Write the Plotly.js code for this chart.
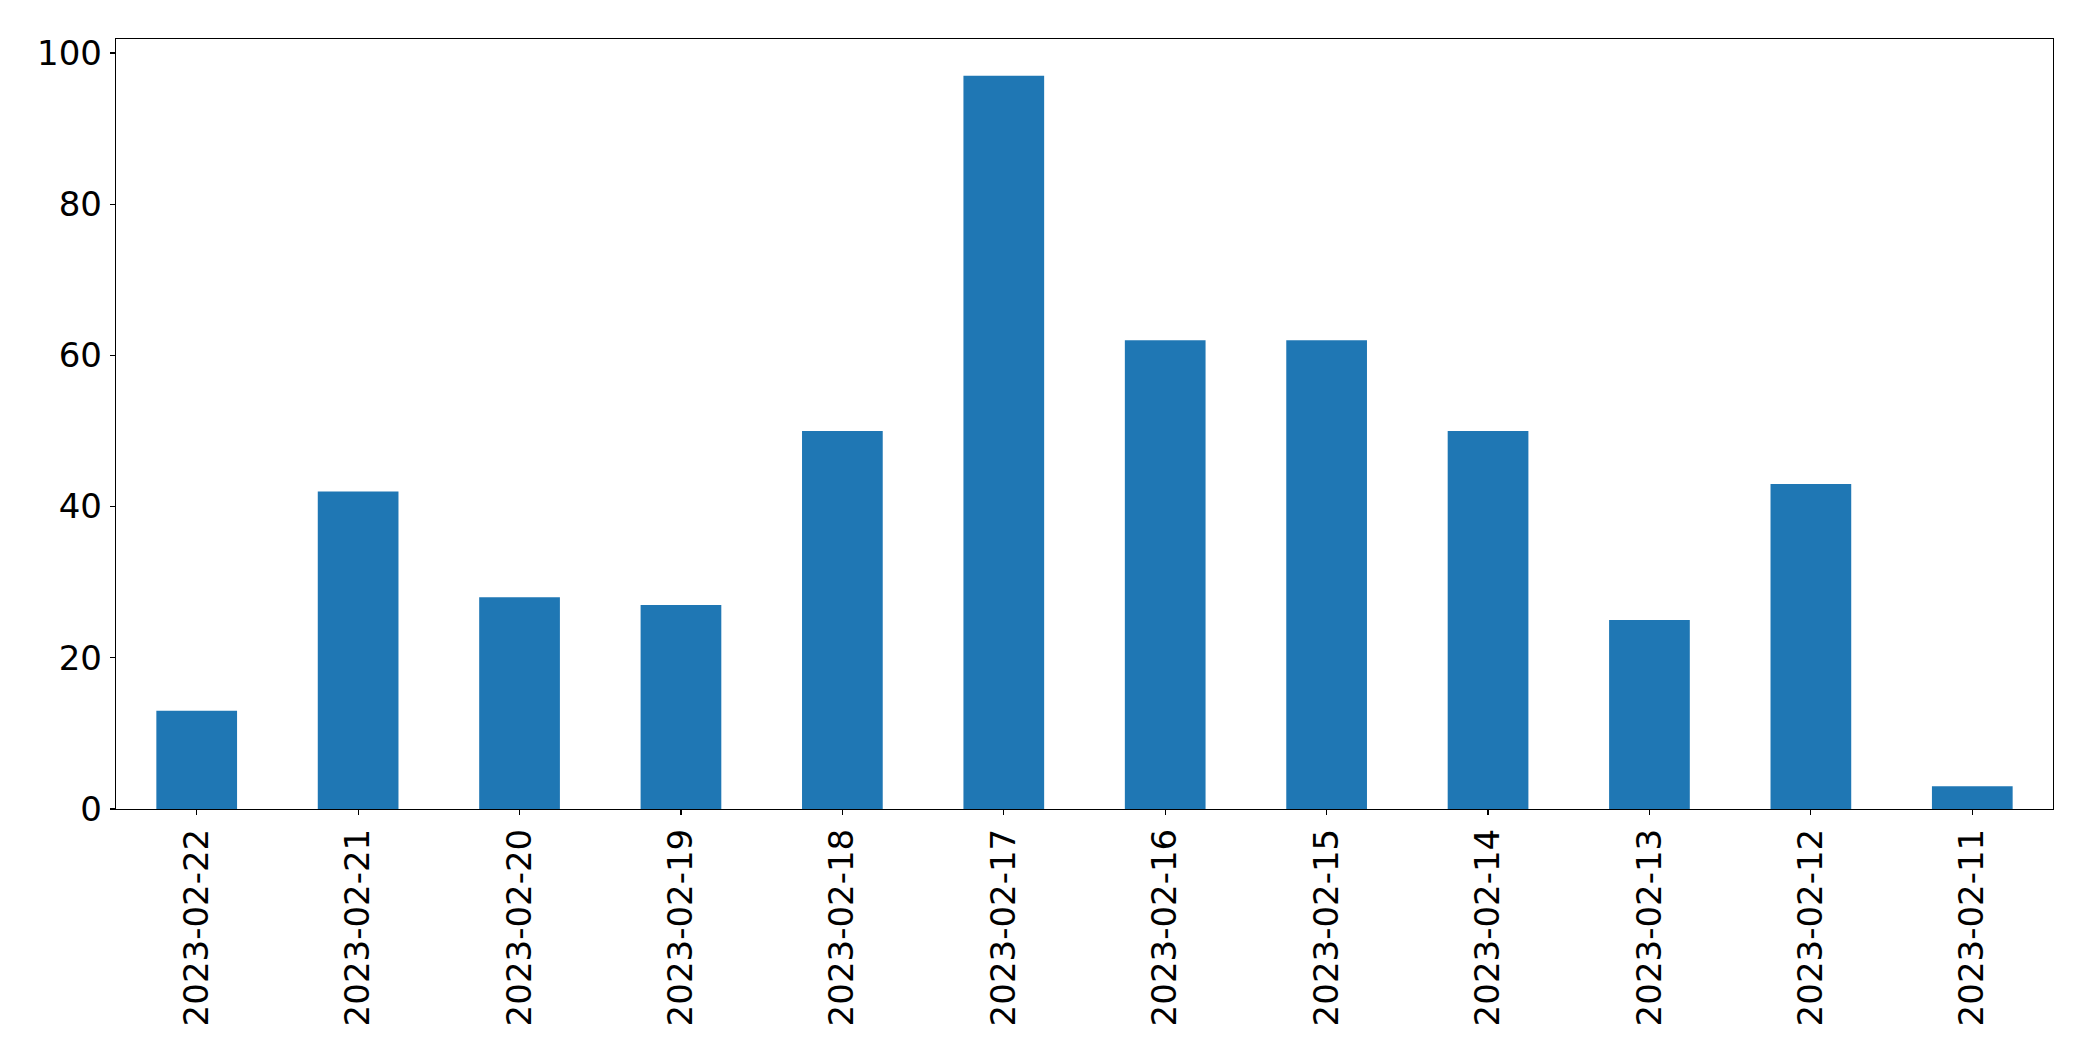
<!DOCTYPE html>
<html>
<head>
<meta charset="utf-8">
<script src="https://cdn.plot.ly/plotly-3.0.1.min.js"></script>
<style>
html, body { margin: 0; padding: 0; background: #fff; }
#chart { width: 2093px; height: 1061px; }
</style>
</head>
<body>
<div id="chart"></div>
<script>
const dates = ["2023-02-22", "2023-02-21", "2023-02-20", "2023-02-19", "2023-02-18", "2023-02-17",
               "2023-02-16", "2023-02-15", "2023-02-14", "2023-02-13", "2023-02-12", "2023-02-11"];
const counts = [13, 42, 28, 27, 50, 97, 62, 62, 50, 25, 43, 3];
const yTicks = [0, 20, 40, 60, 80, 100];

const trace = {
  type: 'bar',
  x: dates,
  y: counts,
  marker: { color: '#1f77b4', line: { width: 0 } },
  hoverinfo: 'x+y'
};

const font = { family: 'DejaVu Sans, sans-serif', size: 34, color: '#000' };

const layout = {
  width: 2093,
  height: 1061,
  margin: { l: 116, r: 40, t: 39, b: 252, pad: 0 },
  paper_bgcolor: '#fff',
  plot_bgcolor: '#fff',
  showlegend: false,
  bargap: 0.5,
  font: font,
  xaxis: {
    type: 'category',
    range: [-0.5, dates.length - 0.5],
    tickangle: -90,
    ticks: 'outside',
    ticklen: 5,
    tickwidth: 1.2,
    tickcolor: '#000',
    showline: true,
    linecolor: '#000',
    linewidth: 1.2,
    mirror: true,
    showgrid: false,
    zeroline: false,
    tickfont: font,
    ticklabelstandoff: 0
  },
  yaxis: {
    range: [0, Math.max(...counts) * 1.05],
    tickvals: yTicks,
    ticktext: yTicks.map(String),
    ticks: 'outside',
    ticklen: 5,
    tickwidth: 1.2,
    tickcolor: '#000',
    showline: true,
    linecolor: '#000',
    linewidth: 1.2,
    mirror: true,
    showgrid: false,
    zeroline: false,
    tickfont: font,
    ticklabelstandoff: 1
  }
};

Plotly.newPlot('chart', [trace], layout, { displayModeBar: false, staticPlot: true });
</script>
</body>
</html>
